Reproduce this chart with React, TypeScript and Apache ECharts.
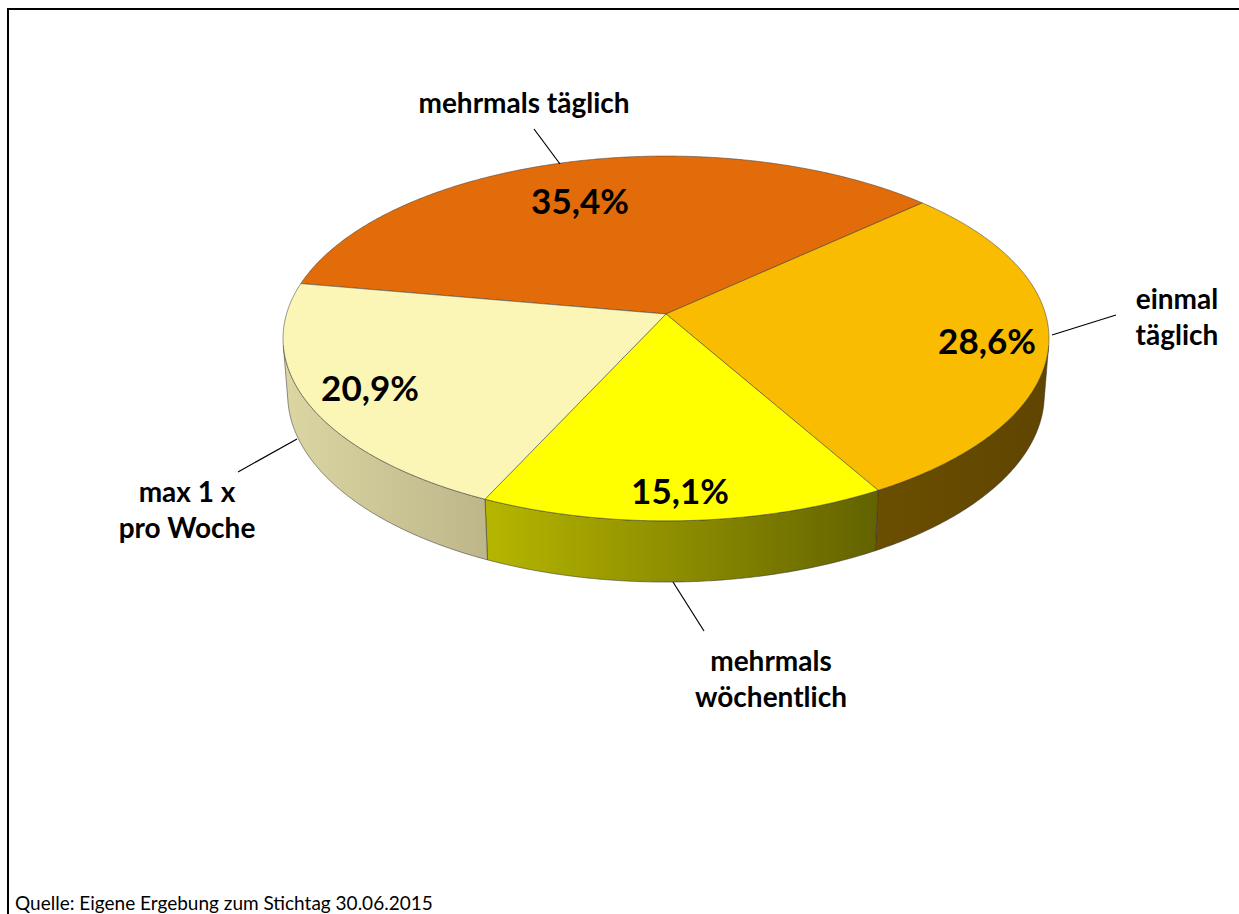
import React, { useEffect, useRef } from "react";
import * as echarts from "echarts";

// ---- data ----
const categories = ["mehrmals täglich", "einmal täglich", "mehrmals wöchentlich", "max 1 x pro Woche"];
const categoryLabelText = ["mehrmals täglich", "einmal\ntäglich", "mehrmals\nwöchentlich", "max 1 x\npro Woche"];
const values = [35.4, 28.6, 15.1, 20.9];
const sourceNote = "Quelle: Eigene Ergebung zum Stichtag 30.06.2015";

// ---- styles ----
const topColors = ["#E26B0A", "#F9BC00", "#FFFF00", "#FBF6B6"];
const wallColors = [
  ["#8a4a08", "#6e3a06"],
  ["#6b4e00", "#5f4500"],
  ["#b6b600", "#626200"],
  ["#dcd6a3", "#bcb68a"],
];

// ---- layout (pixel positions of annotations) ----
const pctLabelPos = [
  [580, 200],
  [987, 340],
  [680, 490],
  [370, 387],
];
const catLabelPos = [
  [524, 102],
  [1177, 316],
  [771, 678],
  [187, 509],
];
const leaderLines = [
  [[534, 129], [560, 164]],
  [[1052, 335], [1116, 315]],
  [[673, 582], [704, 631]],
  [[297, 439], [238, 472]],
];

// 3D projection parameters (perspective view of a cylinder)
const PIE = { cx: 666, cy: 314, k: 379.5, s: 0.472, c: 0.882, p: 0.152, t: 0.168, start: 190 };

function proj(xr: number, yr: number, zr: number): number[] {
  const dep = 1 - PIE.p * (yr * PIE.s + zr * PIE.c);
  return [PIE.cx + (PIE.k * xr) / dep, PIE.cy + (PIE.k * (zr * PIE.s - yr * PIE.c)) / dep];
}

function arc(a0: number, a1: number, yr: number): number[][] {
  const pts: number[][] = [];
  const n = Math.max(2, Math.ceil(Math.abs(a1 - a0) / 0.5));
  for (let i = 0; i <= n; i++) {
    const a = ((a0 + ((a1 - a0) * i) / n) * Math.PI) / 180;
    pts.push(proj(Math.cos(a), yr, Math.sin(a)));
  }
  return pts;
}

export default function App() {
  const ref = useRef<HTMLDivElement>(null);

  useEffect(() => {
    if (!ref.current) return;
    const chart = echarts.init(ref.current, undefined, { renderer: "svg" });
    const total = values.reduce((a, b) => a + b, 0);
    const cum: number[] = [];
    let acc = 0;
    values.forEach((v) => {
      cum.push(acc);
      acc += v;
    });
    const vis = (Math.asin(PIE.p / PIE.c) * 180) / Math.PI;

    const renderItem = (params: any, api: any) => {
      const i = params.dataIndex;
      const v = api.value(0);
      const a0 = PIE.start + (cum[i] / total) * 360;
      const a1 = a0 + (v / total) * 360;
      const children: any[] = [];

      // visible outer wall segments
      for (const n of [0, 360]) {
        const b0 = Math.max(a0, vis + n);
        const b1 = Math.min(a1, 180 - vis + n);
        if (b1 > b0) {
          const top = arc(b0, b1, 0);
          const bot = arc(b1, b0, -PIE.t);
          children.push({
            type: "polygon",
            z2: 1,
            shape: { points: top.concat(bot) },
            style: {
              fill: {
                type: "linear",
                x: 0,
                y: 0,
                x2: 1,
                y2: 0,
                colorStops: [
                  { offset: 0, color: wallColors[i][0] },
                  { offset: 1, color: wallColors[i][1] },
                ],
              },
              stroke: "rgba(50,50,50,0.75)",
              lineWidth: 0.7,
            },
          });
        }
      }

      // top face
      children.push({
        type: "polygon",
        z2: 10,
        shape: { points: [[PIE.cx, PIE.cy]].concat(arc(a0, a1, 0)) },
        style: { fill: topColors[i], stroke: "rgba(60,60,60,0.75)", lineWidth: 0.7 },
      });

      // percentage label
      children.push({
        type: "text",
        z2: 20,
        x: pctLabelPos[i][0],
        y: pctLabelPos[i][1],
        style: {
          text: v.toFixed(1).replace(".", ",") + "%",
          fill: "#000",
          font: "bold 35px Lato",
          align: "center",
          verticalAlign: "middle",
        },
      });

      // leader line
      children.push({
        type: "line",
        z2: 20,
        shape: {
          x1: leaderLines[i][0][0],
          y1: leaderLines[i][0][1],
          x2: leaderLines[i][1][0],
          y2: leaderLines[i][1][1],
        },
        style: { stroke: "#000", lineWidth: 1.2 },
      });

      // category label
      children.push({
        type: "text",
        z2: 20,
        x: catLabelPos[i][0],
        y: catLabelPos[i][1],
        style: {
          text: categoryLabelText[i],
          fill: "#000",
          font: "bold 28px Lato",
          lineHeight: 36,
          align: "center",
          verticalAlign: "middle",
        },
      });

      return { type: "group", children };
    };

    chart.setOption({
      animation: false,
      backgroundColor: "#fff",
      graphic: [
        {
          type: "line",
          shape: { x1: 8, y1: 8, x2: 8, y2: 914 },
          style: { stroke: "#000", lineWidth: 2 },
          silent: true,
        },
        {
          type: "line",
          shape: { x1: 7, y1: 9, x2: 1239, y2: 9 },
          style: { stroke: "#000", lineWidth: 2 },
          silent: true,
        },
        {
          type: "text",
          x: 15,
          y: 902,
          style: {
            text: sourceNote,
            fill: "#000",
            font: "19px Lato",
            verticalAlign: "middle",
          },
        },
      ],
      series: [
        {
          type: "custom",
          name: "Häufigkeit",
          coordinateSystem: "none",
          renderItem,
          data: values.map((v, i) => ({ name: categories[i], value: v })),
        },
      ],
    });

    return () => chart.dispose();
  }, []);

  return (
    <div
      ref={ref}
      style={{ position: "fixed", left: 0, top: 0, width: 1239, height: 914 }}
    />
  );
}
